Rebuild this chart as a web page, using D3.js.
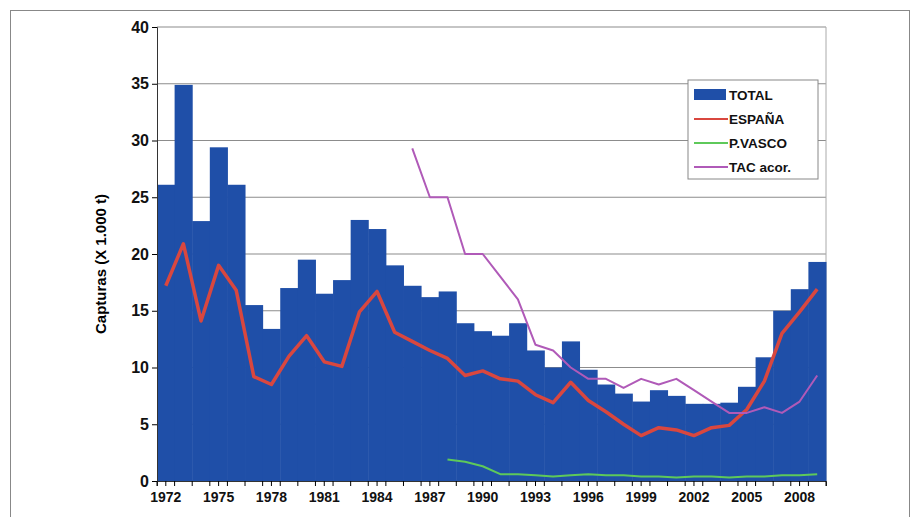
<!DOCTYPE html><html><head><meta charset="utf-8"><script src="https://cdn.jsdelivr.net/npm/d3@7"></script>
<style>body{margin:0;background:#fff}text{font-family:Arial,"Liberation Sans",sans-serif}</style></head><body><svg id="c" width="920" height="517"></svg><script>
const years=d3.range(1972,2010);
const total=[26.1,34.9,22.9,29.4,26.1,15.5,13.4,17.0,19.5,16.5,17.7,23.0,22.2,19.0,17.2,16.2,16.7,13.9,13.2,12.8,13.9,11.5,10.0,12.3,9.8,8.5,7.7,7.0,8.0,7.5,6.8,6.8,6.9,8.3,10.9,15.0,16.9,19.3];
const espana=[17.2,20.9,14.1,19.0,16.8,9.2,8.5,11.0,12.8,10.5,10.1,14.9,16.7,13.1,12.3,11.5,10.8,9.3,9.7,9.0,8.8,7.6,6.9,8.7,7.1,6.1,5.0,4.0,4.7,4.5,4.0,4.7,4.9,6.3,8.8,13.0,14.9,16.9];
const vascoYears=d3.range(1988,2010);
const vasco=[1.9,1.7,1.3,0.6,0.6,0.5,0.4,0.5,0.6,0.5,0.5,0.4,0.4,0.3,0.4,0.4,0.3,0.4,0.4,0.5,0.5,0.6];
const tacYears=d3.range(1986,2010);
const tac=[29.3,25,25,20,20,18,16,12,11.5,10,9,9,8.2,9,8.5,9,8,7,6,6,6.5,6,7,9.3];
const yTicks=[0,5,10,15,20,25,30,35,40];
const svg=d3.select("#c");
svg.append("rect").attr("x",10.5).attr("y",10.5).attr("width",899).attr("height",520).attr("fill","none").attr("stroke","#888");
const L=157,R=826,T=27,B=481;
const x=d3.scaleBand().domain(years).range([L,R]).padding(0);
const y=d3.scaleLinear().domain([0,40]).range([B,T]);
svg.append("g").selectAll("line").data(yTicks).join("line").attr("x1",L).attr("x2",R).attr("y1",d=>y(d)).attr("y2",d=>y(d)).attr("stroke","#8c8c8c").attr("stroke-width",1.2);
svg.append("line").attr("x1",R).attr("x2",R).attr("y1",T).attr("y2",B).attr("stroke","#aaa");
svg.append("g").selectAll("rect").data(years).join("rect").attr("x",d=>x(d)).attr("width",x.bandwidth()+0.5).attr("y",(d,i)=>y(total[i])).attr("height",(d,i)=>B-y(total[i])).attr("fill","#1f4fa8");
const cx=d=>x(d)+x.bandwidth()/2;
const line=(xs,vs,col,w)=>svg.append("path").datum(xs.map((d,i)=>[cx(d),y(vs[i])])).attr("d",d3.line()).attr("fill","none").attr("stroke",col).attr("stroke-width",w).attr("stroke-linejoin","round");
line(years,espana,"#d9473f",3.5);
line(vascoYears,vasco,"#5ec95a",2);
line(tacYears,tac,"#b05ab8",2);
const ya=svg.append("g").attr("transform",`translate(${L},0)`).call(d3.axisLeft(y).tickValues(yTicks).tickSize(5));
ya.selectAll("text").attr("font-size",16).attr("font-weight","bold").attr("fill","#111");
const xa=svg.append("g").attr("transform",`translate(0,${B})`).call(d3.axisBottom(x).tickValues(years.filter(d=>(d-1972)%3==0)).tickSize(5));
xa.selectAll("text").attr("font-size",14).attr("font-weight","bold").attr("fill","#111").attr("dy","0.95em");
svg.append("g").attr("transform",`translate(${L},${B})`).selectAll("line").data(d3.range(years.length+1)).join("line").attr("x1",d=>d*x.step()).attr("x2",d=>d*x.step()).attr("y1",0).attr("y2",5).attr("stroke","#000");
[ya,xa].forEach(a=>a.select(".domain").attr("stroke","#333"));
svg.append("text").attr("transform",`translate(106,${(T+B)/2+10}) rotate(-90)`).attr("text-anchor","middle").attr("font-size",15).attr("font-weight","bold").text("Capturas (X 1.000 t)");
const lg=svg.append("g").attr("transform","translate(688,80)");
lg.append("rect").attr("width",130).attr("height",99).attr("fill","#fff").attr("stroke","#888");
const items=[["TOTAL","#1f4fa8","bar"],["ESPAÑA","#d9473f"],["P.VASCO","#5ec95a"],["TAC acor.","#b05ab8"]];
items.forEach((it,i)=>{const g=lg.append("g").attr("transform",`translate(6,${15+i*24})`);
 if(it[2])g.append("rect").attr("x",0).attr("y",-6).attr("width",32).attr("height",11).attr("fill",it[1]);
 else g.append("line").attr("x1",0).attr("x2",34).attr("stroke",it[1]).attr("stroke-width",2);
 g.append("text").attr("x",35).attr("y",5).attr("font-size",13.5).attr("font-weight","bold").attr("fill","#111").text(it[0]);});
</script></body></html>
